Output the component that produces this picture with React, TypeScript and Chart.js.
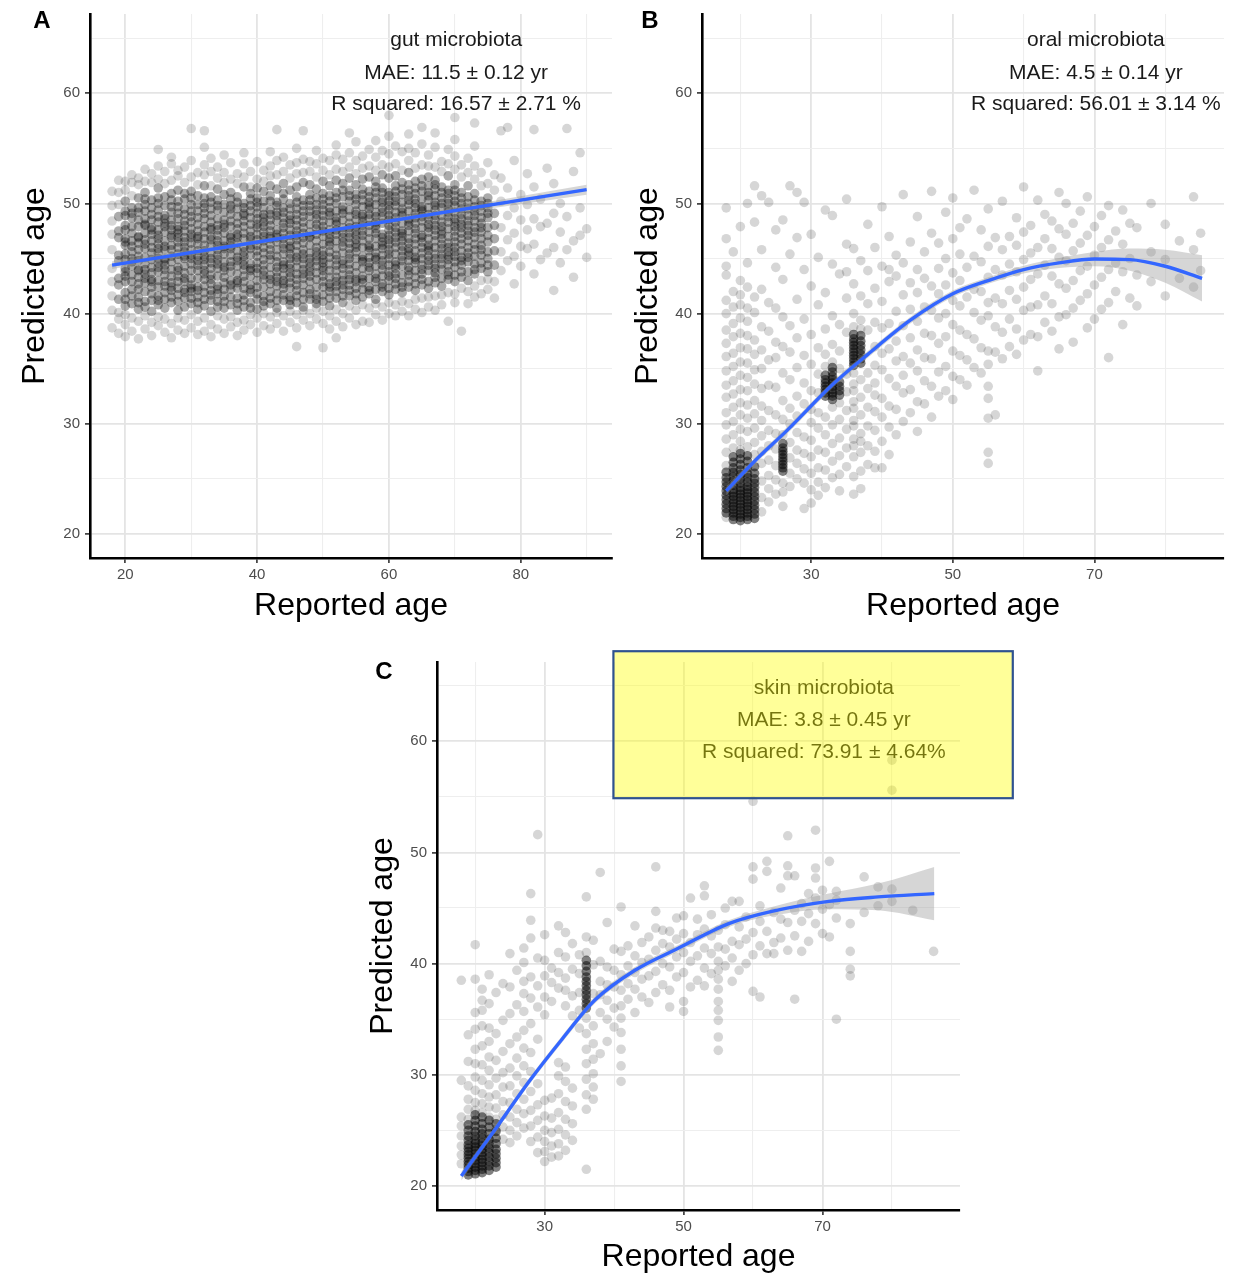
import { useEffect, useRef } from "react";
import { Chart, registerables } from "chart.js";

Chart.register(...registerables);

const FONT = "'Liberation Sans', Arial, Helvetica, sans-serif";
Chart.defaults.font.family = FONT;

// Each row: [reported age, predicted age, predicted age, ...]

// ---------- gut microbiota ----------
const gutCore: number[][] = [
  [19, 41.3, 42.6, 43.2, 44.8, 45.3, 46.9, 47.5, 48.8],
  [20, 40.7, 41.9, 43.4, 44.1, 44.9, 46.2, 46.8, 48.0, 49.3, 50.2],
  [21, 40.9, 42.2, 42.9, 44.3, 45.6, 46.1, 47.3, 48.7, 49.6],
  [22, 40.4, 41.5, 42.7, 43.3, 44.0, 45.2, 46.4, 47.0, 47.9, 49.2, 50.5],
  [23, 41.1, 42.0, 43.6, 44.5, 45.1, 45.9, 46.7, 48.1, 48.6, 49.9, 51.0],
  [24, 40.2, 41.8, 42.4, 43.1, 44.2, 44.9, 46.0, 47.2, 47.8, 49.0, 50.3],
  [25, 40.8, 41.6, 43.0, 43.8, 44.6, 45.5, 46.3, 47.1, 48.3, 49.4, 50.0, 51.4],
  [26, 40.5, 41.3, 42.5, 43.5, 44.4, 45.0, 46.6, 47.4, 48.2, 48.9, 50.6],
  [27, 41.0, 42.1, 42.8, 44.0, 44.7, 45.8, 46.2, 47.6, 48.5, 49.7, 50.9],
  [28, 40.3, 41.7, 42.3, 43.4, 44.9, 45.4, 46.5, 47.3, 47.9, 49.1, 50.2, 51.2],
  [29, 40.6, 41.4, 42.9, 43.7, 44.3, 45.6, 46.0, 46.9, 48.4, 49.5, 50.4],
  [30, 40.9, 42.0, 42.6, 43.2, 44.5, 45.3, 46.4, 47.2, 47.7, 48.8, 49.9, 51.1],
  [31, 40.4, 41.5, 42.4, 43.9, 44.8, 45.7, 46.3, 47.5, 48.1, 49.3, 50.7],
  [32, 40.7, 41.9, 43.1, 43.6, 44.4, 45.2, 46.8, 47.4, 48.6, 49.6, 50.5, 51.6],
  [33, 40.2, 41.2, 42.7, 43.5, 44.6, 45.5, 46.2, 47.0, 48.3, 48.9, 50.1],
  [34, 41.1, 41.8, 42.5, 44.1, 44.9, 45.8, 46.6, 47.6, 48.0, 49.4, 50.3, 51.3],
  [35, 40.5, 41.6, 42.8, 43.3, 44.2, 45.4, 46.1, 47.3, 48.5, 49.2, 50.8],
  [36, 40.8, 42.2, 43.0, 43.8, 44.7, 45.9, 46.5, 47.1, 47.9, 49.0, 49.8, 51.0],
  [37, 40.3, 41.4, 42.3, 43.6, 44.3, 45.1, 46.4, 47.7, 48.2, 49.5, 50.6],
  [38, 40.6, 41.7, 42.9, 44.0, 44.8, 45.6, 46.0, 46.8, 48.4, 49.1, 50.0, 51.5],
  [39, 41.0, 41.9, 42.6, 43.4, 44.5, 45.3, 46.7, 47.5, 48.1, 49.3, 50.4],
  [40, 40.4, 41.3, 42.4, 43.7, 44.6, 45.7, 46.2, 47.2, 48.6, 49.7, 50.5, 51.4],
  [41, 40.7, 41.6, 43.1, 43.9, 44.4, 45.5, 46.6, 47.4, 48.3, 49.0, 50.2, 51.1],
  [42, 40.9, 42.0, 42.7, 43.5, 44.9, 45.8, 46.3, 47.0, 48.0, 49.4, 50.7, 51.6],
  [43, 40.5, 41.8, 42.5, 43.3, 44.2, 45.2, 46.5, 47.6, 48.4, 49.2, 50.1, 51.3],
  [44, 41.2, 42.3, 43.0, 44.1, 44.7, 45.9, 46.8, 47.3, 48.7, 49.6, 50.4, 51.8],
  [45, 40.8, 41.5, 42.8, 43.7, 44.5, 45.4, 46.1, 47.1, 48.2, 48.9, 50.0, 51.2],
  [46, 41.0, 42.1, 42.6, 43.6, 44.8, 45.6, 46.7, 47.5, 48.5, 49.5, 50.6, 51.5],
  [47, 40.6, 41.9, 43.2, 44.0, 45.0, 45.8, 46.4, 47.8, 48.3, 49.3, 50.3, 51.9],
  [48, 41.3, 42.2, 42.9, 43.8, 44.6, 45.5, 46.9, 47.4, 48.8, 49.8, 50.8, 51.7],
  [49, 40.9, 41.7, 43.1, 44.3, 45.2, 46.0, 46.6, 47.7, 48.6, 49.4, 50.5, 51.3],
  [50, 41.1, 42.4, 43.4, 44.2, 44.9, 45.7, 47.0, 47.9, 48.4, 49.9, 50.9, 52.0],
  [51, 40.7, 42.0, 42.7, 43.9, 45.1, 46.2, 46.8, 47.6, 48.9, 49.6, 50.7, 51.6],
  [52, 41.4, 42.5, 43.3, 44.4, 45.3, 45.9, 47.2, 48.1, 48.7, 50.0, 51.0, 52.1],
  [53, 41.0, 42.2, 43.0, 44.1, 44.8, 46.1, 46.9, 47.8, 49.1, 49.7, 50.6, 51.8],
  [54, 41.6, 42.6, 43.5, 44.5, 45.4, 46.4, 47.3, 48.2, 48.8, 50.2, 51.2, 52.3],
  [55, 41.2, 42.3, 43.7, 44.3, 45.6, 46.3, 47.1, 47.9, 49.3, 49.9, 50.8, 51.7],
  [56, 41.5, 42.8, 43.4, 44.7, 45.2, 46.6, 47.5, 48.4, 49.0, 50.3, 51.3, 52.2],
  [57, 41.8, 42.4, 43.9, 44.6, 45.7, 46.2, 47.4, 48.6, 49.5, 50.1, 51.1, 52.4],
  [58, 41.3, 42.9, 43.6, 44.9, 45.5, 46.8, 47.7, 48.3, 49.2, 50.5, 51.5, 52.0],
  [59, 42.0, 42.7, 44.0, 44.8, 45.9, 46.5, 47.2, 48.8, 49.6, 50.4, 51.4, 52.6],
  [60, 41.7, 43.0, 43.8, 45.0, 45.8, 46.7, 47.6, 48.5, 49.4, 50.2, 51.0, 52.3],
  [61, 42.2, 43.2, 44.1, 44.7, 46.0, 46.9, 47.8, 48.7, 49.8, 50.6, 51.6, 52.5],
  [62, 41.9, 42.8, 44.3, 45.2, 46.1, 47.0, 47.5, 48.9, 49.5, 50.8, 51.9],
  [63, 42.4, 43.5, 44.2, 45.3, 45.9, 46.8, 48.0, 48.6, 49.9, 50.7, 51.7, 52.8],
  [64, 42.1, 43.3, 44.6, 45.1, 46.3, 47.3, 48.2, 49.1, 50.0, 50.9, 52.0],
  [65, 42.6, 43.6, 44.4, 45.5, 46.5, 47.1, 48.4, 49.3, 49.7, 51.1, 52.2],
  [66, 42.3, 43.9, 44.8, 45.7, 46.2, 47.4, 48.1, 49.0, 50.3, 51.0, 52.4],
  [67, 42.8, 43.7, 44.5, 45.4, 46.6, 47.6, 48.5, 49.4, 50.1, 51.3, 52.1],
  [68, 42.5, 44.0, 45.0, 45.9, 46.8, 47.2, 48.3, 49.6, 50.5, 51.5],
  [69, 43.1, 43.8, 44.9, 45.6, 46.4, 47.7, 48.8, 49.2, 50.4, 51.2, 52.5],
  [70, 42.9, 44.2, 45.2, 46.0, 47.0, 47.9, 48.6, 49.8, 50.7, 51.7],
  [71, 43.3, 44.4, 45.1, 46.3, 47.3, 48.1, 49.0, 50.0, 51.0],
  [72, 43.0, 44.7, 45.5, 46.6, 47.5, 48.4, 49.5, 50.6, 51.6],
  [73, 43.6, 44.5, 45.8, 46.9, 47.8, 48.9, 49.7, 50.9],
  [74, 44.1, 45.3, 46.2, 47.4, 48.2, 49.3, 50.2],
  [75, 43.8, 45.0, 46.5, 47.1, 48.7, 49.6, 50.5],
  [76, 44.4, 45.7, 46.8, 48.0, 49.1],
];

// the most crowded band of the gut cloud
const gutDense: number[][] = [
  [20, 41.3, 42.9, 43.8, 45.4, 46.5, 47.6, 48.9],
  [21, 41.6, 43.5, 44.7, 45.0, 46.6, 47.9, 49.1],
  [22, 41.0, 42.2, 43.9, 44.8, 45.8, 46.9, 48.5, 49.6],
  [23, 40.6, 42.8, 43.2, 44.0, 46.3, 47.3, 48.0, 49.3, 50.4],
  [24, 41.2, 42.9, 43.7, 45.5, 46.6, 47.6, 48.5, 49.6],
  [25, 41.2, 42.4, 44.2, 45.0, 45.9, 46.8, 47.6, 48.8, 50.5],
  [26, 41.9, 42.9, 44.0, 44.8, 45.8, 46.1, 47.9, 48.6, 49.8],
  [27, 41.5, 42.4, 43.4, 45.2, 46.9, 47.1, 48.0, 49.2, 50.3],
  [28, 41.1, 42.9, 43.9, 44.2, 46.0, 46.9, 47.6, 48.6, 49.7],
  [29, 41.9, 42.2, 43.2, 45.0, 45.2, 46.5, 47.5, 48.0, 49.0, 50.9],
  [30, 41.4, 42.3, 43.9, 45.0, 45.8, 46.9, 48.3, 49.3, 50.5],
  [31, 41.0, 42.1, 43.2, 44.4, 45.2, 46.8, 47.0, 48.7, 49.9],
  [32, 41.3, 42.5, 43.9, 44.9, 45.7, 46.2, 47.9, 49.1, 50.0],
  [33, 41.7, 42.1, 43.1, 44.1, 45.0, 46.7, 47.6, 47.8, 49.5, 50.6],
  [34, 40.6, 42.2, 43.4, 44.5, 45.3, 46.2, 47.1, 48.6, 49.8],
  [35, 41.1, 42.2, 43.9, 44.7, 45.9, 46.6, 47.8, 48.1, 49.9],
  [36, 41.5, 42.6, 44.3, 45.3, 46.1, 46.9, 48.4, 49.5, 50.4],
  [37, 40.9, 42.8, 43.0, 44.8, 45.7, 46.9, 47.2, 48.8, 50.1],
  [38, 41.2, 42.3, 43.4, 44.4, 45.2, 47.3, 47.9, 48.9, 49.6],
  [39, 40.5, 42.2, 43.9, 44.1, 45.9, 46.2, 47.0, 48.7, 49.8, 50.9],
  [40, 41.8, 43.0, 44.1, 45.2, 46.7, 47.8, 48.1, 49.1, 50.1],
  [41, 41.1, 42.4, 43.5, 44.9, 46.0, 47.0, 47.9, 48.7, 49.6],
  [42, 41.4, 43.1, 44.2, 45.3, 46.8, 47.5, 48.5, 49.0, 50.2],
  [43, 41.2, 42.9, 43.8, 44.7, 45.8, 46.9, 47.2, 48.9, 49.8],
  [44, 41.7, 42.7, 43.5, 44.4, 45.4, 46.3, 47.8, 48.2, 49.2, 50.9],
  [45, 41.2, 42.3, 43.3, 44.1, 45.0, 45.9, 46.6, 47.6, 48.5, 49.5],
  [46, 41.6, 43.1, 44.2, 45.1, 46.2, 47.1, 48.0, 49.0, 50.1],
  [47, 41.3, 42.6, 43.6, 44.5, 45.4, 46.9, 47.3, 48.8, 49.8],
  [48, 41.8, 43.4, 44.2, 45.0, 46.2, 47.0, 48.1, 49.3, 50.3],
  [49, 41.3, 42.4, 43.7, 44.8, 45.6, 47.2, 48.1, 49.0, 49.9],
  [50, 41.7, 42.9, 43.9, 44.6, 45.3, 46.3, 47.5, 48.9, 49.4, 50.4],
  [51, 41.4, 42.4, 43.3, 44.5, 45.6, 46.5, 47.2, 48.3, 49.2, 50.2],
  [52, 42.0, 42.9, 43.9, 44.9, 46.6, 47.6, 48.4, 49.3, 50.5],
  [53, 41.6, 42.6, 43.5, 44.5, 45.5, 46.5, 47.3, 48.5, 49.4, 51.2],
  [54, 42.1, 43.1, 44.0, 45.0, 45.9, 46.9, 47.8, 49.4, 50.7],
  [55, 41.8, 42.9, 43.1, 45.0, 46.0, 46.7, 47.5, 48.5, 49.0, 50.4],
  [56, 42.2, 43.1, 44.1, 44.9, 46.0, 47.1, 48.0, 48.8, 49.7, 50.8],
  [57, 42.1, 43.2, 44.2, 45.1, 46.0, 46.8, 48.0, 49.0, 49.8, 50.6],
  [58, 42.2, 43.2, 44.3, 45.1, 46.1, 47.3, 48.0, 48.8, 49.9, 51.0],
  [59, 42.4, 43.4, 44.4, 45.3, 46.2, 46.9, 48.2, 49.2, 50.1, 51.0],
  [60, 42.3, 43.4, 44.4, 45.4, 46.3, 47.1, 48.0, 48.9, 49.8, 50.7],
  [61, 42.7, 43.6, 44.4, 45.4, 46.5, 47.4, 48.3, 49.2, 50.2, 51.1],
  [62, 42.4, 43.5, 44.8, 45.7, 46.6, 47.3, 48.2, 49.2, 50.1, 51.3],
  [63, 42.9, 43.9, 44.8, 45.6, 46.4, 47.5, 48.3, 49.3, 50.3, 51.2],
  [64, 42.7, 43.9, 44.9, 45.7, 46.8, 47.7, 48.7, 49.6, 50.4, 51.4],
  [65, 43.1, 44.0, 45.0, 46.0, 46.9, 47.8, 48.8, 49.5, 50.4, 51.6],
  [66, 42.9, 44.4, 45.2, 46.0, 46.8, 47.8, 48.6, 49.6, 50.7, 51.6],
  [67, 43.3, 44.1, 45.0, 46.0, 47.1, 48.0, 48.9, 49.8, 50.7, 51.7],
  [68, 43.2, 44.5, 45.4, 46.3, 47.5, 47.9, 48.9, 50.0, 51.0],
  [69, 43.5, 44.4, 45.2, 46.0, 47.0, 48.3, 49.5, 50.0, 50.9],
  [70, 43.5, 44.7, 45.6, 46.5, 47.5, 48.3, 49.2, 50.2, 51.2],
  [71, 43.8, 44.8, 45.7, 46.8, 47.8, 48.6, 49.5, 50.5],
  [72, 43.8, 45.1, 46.0, 47.1, 48.0, 48.9, 50.0],
  [73, 44.0, 45.2, 46.3, 47.4, 48.4, 49.3, 50.3],
  [74, 44.6, 45.8, 46.8, 47.8, 48.7, 49.8],
  [75, 44.4, 45.6, 47.8, 49.1, 50.0],
];

const gutScatter: number[][] = [
  [18, 38.7, 40.3, 41.6, 42.9, 44.1, 45.8, 47.2, 48.4, 49.8, 51.1],
  [19, 38.2, 39.5, 40.1, 49.9, 51.0, 52.1],
  [20, 37.9, 39.0, 39.9, 51.2, 52.0],
  [21, 38.4, 39.6, 50.7, 51.9, 52.6],
  [22, 37.7, 39.3, 51.7, 52.3],
  [23, 38.6, 39.8, 52.0, 53.1],
  [24, 38.0, 39.2, 51.9, 52.7],
  [25, 38.9, 39.7, 52.2, 53.4, 54.9],
  [26, 38.3, 39.5, 51.8, 52.9],
  [27, 37.8, 39.1, 52.1, 53.6, 54.2],
  [28, 38.5, 39.6, 52.5, 53.0],
  [29, 38.2, 39.4, 51.9, 53.3],
  [30, 38.7, 39.9, 52.4, 53.9, 56.8],
  [31, 38.1, 39.3, 51.7, 52.8],
  [32, 38.4, 39.6, 52.6, 53.5, 55.1, 56.6],
  [33, 37.9, 39.0, 51.6, 52.9, 54.1],
  [34, 38.6, 39.8, 52.3, 53.3],
  [35, 38.2, 39.5, 51.9, 52.8, 54.4],
  [36, 38.8, 39.7, 52.2, 53.7],
  [37, 38.0, 39.2, 51.8, 52.7],
  [38, 38.5, 39.4, 52.4, 53.6, 54.6],
  [39, 39.0, 39.9, 51.5, 52.9],
  [40, 38.3, 39.6, 52.2, 53.8],
  [41, 38.9, 40.0, 52.0, 53.0],
  [42, 38.6, 39.7, 52.5, 53.4, 54.7],
  [43, 39.1, 40.1, 52.6, 53.9, 56.7],
  [44, 38.4, 39.8, 52.9, 54.2],
  [45, 39.2, 40.2, 52.3, 53.5],
  [46, 37.0, 38.7, 39.9, 52.7, 53.7, 55.0],
  [47, 39.4, 40.3, 52.8, 54.0, 56.6],
  [48, 38.9, 40.0, 52.9, 53.8],
  [49, 39.5, 40.5, 52.4, 53.6, 54.8],
  [50, 36.9, 39.1, 40.2, 53.0, 54.1],
  [51, 38.6, 39.8, 52.6, 53.9],
  [52, 37.8, 39.3, 40.4, 53.1, 54.4, 55.3],
  [53, 38.8, 40.0, 52.9, 54.0],
  [54, 39.6, 40.7, 53.3, 54.6, 56.4],
  [55, 39.0, 40.3, 52.7, 53.9, 55.6],
  [56, 39.3, 40.8, 53.2, 54.3],
  [57, 39.2, 40.5, 53.4, 54.9],
  [58, 39.9, 40.9, 53.0, 54.2, 55.7],
  [59, 39.4, 40.6, 53.5, 54.8],
  [60, 40.0, 41.0, 53.3, 54.5, 56.1, 58.0],
  [61, 39.8, 40.8, 53.6, 55.2],
  [62, 40.2, 41.1, 53.0, 54.7],
  [63, 39.8, 40.9, 53.9, 55.0, 56.3],
  [64, 40.4, 41.3, 53.2, 54.6],
  [65, 40.1, 41.4, 53.5, 55.4, 56.9],
  [66, 40.6, 41.5, 53.4, 54.4],
  [67, 40.3, 41.6, 53.3, 55.1, 56.4],
  [68, 40.8, 41.7, 52.9, 53.8],
  [69, 39.3, 41.9, 53.6, 54.9],
  [70, 41.0, 41.8, 53.1, 54.3, 55.8, 57.8],
  [71, 38.4, 42.3, 52.4, 53.5],
  [72, 40.9, 42.0, 52.8, 54.1],
  [73, 41.5, 42.5, 52.2, 53.4, 55.2, 57.3],
  [74, 41.8, 43.0, 51.6, 52.8],
  [75, 42.2, 43.1, 51.8, 53.7],
  [76, 41.4, 42.9, 51.2, 52.6],
  [77, 43.9, 45.6, 47.8, 50.2, 52.3, 56.6],
  [78, 44.8, 46.7, 48.9, 51.4, 56.9],
  [79, 42.7, 45.2, 47.3, 49.6, 53.9],
  [80, 44.3, 46.1, 48.5, 50.8],
  [81, 45.9, 47.6, 49.9, 52.7],
  [82, 43.6, 46.3, 48.6, 51.5, 56.7],
  [83, 44.9, 47.9, 50.4],
  [84, 45.5, 48.2, 53.2],
  [85, 42.1, 46.0, 49.1, 51.8],
  [86, 44.6, 47.4, 50.0],
  [87, 45.8, 48.8, 56.8],
  [88, 43.3, 46.6, 52.9],
  [89, 47.1, 49.6, 54.6],
  [90, 45.1, 47.7],
];

const gutFitAge = [18, 90];
const gutFitPred = [44.4, 51.25];
const gutBandAge = [18, 54, 90];
const gutBandLow = [44.05, 47.7, 50.8];
const gutBandHigh = [44.75, 48.0, 51.7];

// ---------- oral microbiota ----------
const oralCore: number[][] = [
  [18, 21.9, 22.3, 22.7, 23.1, 23.5, 23.9, 24.3, 24.7, 25.1, 25.6],
  [19, 21.3, 21.6, 21.9, 22.2, 22.5, 22.8, 23.1, 23.4, 23.7, 24.0, 24.4, 24.8, 25.2, 25.6, 26.0, 26.5, 27.0],
  [20, 21.2, 21.5, 21.8, 22.1, 22.4, 22.7, 23.0, 23.3, 23.6, 23.9, 24.2, 24.6, 25.0, 25.4, 25.8, 26.3, 26.8, 27.3],
  [21, 21.3, 21.6, 21.9, 22.2, 22.5, 22.8, 23.1, 23.4, 23.7, 24.0, 24.3, 24.7, 25.1, 25.5, 26.0, 26.6, 27.1],
  [22, 21.4, 21.8, 22.2, 22.6, 23.0, 23.4, 23.8, 24.2, 24.6, 25.0, 25.5, 26.1],
  [26, 25.7, 26.0, 26.3, 26.6, 26.9, 27.2, 27.5, 27.8, 28.2],
  [32, 32.5, 32.8, 33.1, 33.4, 33.7, 34.0, 34.4],
  [33, 32.2, 32.5, 32.8, 33.1, 33.4, 33.7, 34.0, 34.3, 34.7, 35.1],
  [34, 32.6, 33.0, 33.4, 33.8],
  [36, 35.3, 35.6, 35.9, 36.2, 36.5, 36.8, 37.1, 37.4, 37.7, 38.1],
  [37, 35.5, 35.9, 36.3, 36.7, 37.1, 37.5, 38.0],
];

const oralScatter: number[][] = [
  [18, 21.5, 26.2, 27.4, 28.6, 29.9, 31.0, 32.4, 33.5, 34.8, 36.1, 37.3, 38.5, 40.0, 41.2, 43.5, 44.3, 46.8, 49.6],
  [19, 27.8, 29.0, 30.2, 31.5, 32.7, 33.9, 35.2, 36.4, 37.9, 39.1, 40.6, 42.0, 45.6],
  [20, 27.6, 28.4, 29.5, 30.8, 31.9, 33.1, 34.4, 35.6, 36.9, 38.2, 39.6, 40.8, 41.7, 43.0, 47.9],
  [21, 27.9, 29.3, 30.5, 31.7, 33.0, 34.2, 35.5, 36.8, 38.0, 39.3, 40.5, 42.4, 44.6, 50.0],
  [22, 27.2, 28.3, 29.6, 30.9, 32.1, 33.6, 34.9, 36.3, 37.6, 40.1, 41.5, 48.3, 51.6],
  [23, 22.0, 23.3, 24.8, 26.4, 27.5, 28.9, 30.3, 31.6, 33.2, 35.0, 36.7, 38.8, 42.2, 45.8, 50.7],
  [24, 22.9, 24.1, 25.3, 26.7, 28.0, 29.4, 31.2, 33.5, 35.8, 38.4, 41.0, 50.1],
  [25, 23.6, 24.9, 26.2, 27.7, 29.1, 30.8, 33.3, 36.0, 37.4, 40.5, 44.2, 47.6],
  [26, 22.5, 23.8, 24.6, 29.0, 30.4, 32.1, 34.6, 37.0, 39.7, 43.1, 48.5],
  [27, 24.3, 25.5, 26.9, 28.3, 30.0, 31.4, 34.0, 36.5, 38.9, 45.4, 51.6],
  [28, 25.0, 26.4, 27.6, 29.2, 30.7, 32.5, 35.1, 37.8, 41.3, 46.9, 51.0],
  [29, 22.3, 24.6, 25.9, 27.3, 28.8, 31.8, 33.7, 36.2, 39.5, 44.0, 50.1],
  [30, 22.8, 24.0, 25.5, 27.0, 28.5, 30.1, 31.3, 33.0, 35.4, 38.1, 42.5, 47.2],
  [31, 23.5, 24.7, 26.0, 27.6, 29.6, 31.0, 32.8, 34.5, 36.9, 40.8, 45.1],
  [32, 24.2, 25.8, 27.4, 29.0, 30.6, 35.2, 36.3, 38.6, 41.9, 49.4],
  [33, 25.1, 26.6, 28.2, 29.9, 31.5, 35.6, 37.2, 39.8, 44.5, 48.9],
  [34, 23.9, 25.4, 27.1, 28.7, 30.4, 31.9, 35.0, 36.6, 39.0, 43.6],
  [35, 26.1, 27.8, 29.5, 31.2, 32.9, 34.5, 38.3, 41.4, 43.8, 46.3, 50.4],
  [36, 23.6, 25.2, 27.0, 28.0, 28.6, 29.8, 30.3, 31.4, 32.0, 33.0, 33.6, 34.6, 38.8, 40.0, 42.7, 45.9],
  [37, 24.1, 25.7, 27.4, 28.4, 29.1, 30.8, 32.4, 34.0, 38.6, 39.4, 41.6, 44.8],
  [38, 26.3, 28.0, 29.8, 31.5, 33.2, 34.6, 38.5, 40.9, 43.9, 48.1],
  [39, 26.0, 27.5, 29.4, 31.1, 32.6, 33.7, 35.3, 37.0, 39.2, 42.3, 46.0],
  [40, 26.0, 28.4, 30.6, 32.3, 34.9, 36.4, 38.7, 41.1, 44.3, 49.7],
  [41, 27.2, 29.7, 31.6, 34.1, 36.8, 39.1, 42.9, 44.0, 47.0],
  [42, 29.0, 31.3, 33.4, 35.7, 37.5, 40.2, 43.4, 45.3],
  [43, 30.2, 32.8, 34.4, 36.1, 38.9, 41.7, 44.6, 50.8],
  [44, 31.0, 33.1, 35.5, 37.8, 40.4, 42.8, 46.5],
  [45, 29.3, 32.0, 34.8, 36.7, 39.3, 41.9, 44.0, 48.8],
  [46, 31.8, 33.9, 36.0, 38.2, 40.6, 43.2, 45.6],
  [47, 30.6, 33.4, 35.9, 38.0, 40.3, 42.5, 47.3, 51.1],
  [48, 32.5, 34.7, 37.3, 39.6, 41.8, 44.1, 46.4],
  [49, 33.0, 35.2, 37.9, 40.0, 42.6, 45.0, 49.2],
  [50, 32.2, 34.3, 36.6, 39.0, 41.2, 43.7, 46.8, 50.5],
  [51, 34.0, 36.2, 38.5, 40.7, 43.0, 45.4, 47.8],
  [52, 33.5, 35.8, 38.1, 41.5, 44.2, 48.6],
  [53, 35.1, 37.7, 40.1, 42.2, 45.2, 51.2],
  [54, 34.6, 36.9, 39.4, 42.0, 44.7, 47.6],
  [55, 26.4, 27.4, 30.5, 32.3, 33.4, 35.4, 36.6, 39.8, 41.0, 43.3, 46.1, 49.5],
  [56, 30.8, 36.5, 38.8, 41.4, 44.0, 46.9],
  [57, 35.9, 38.3, 40.9, 43.5, 45.8, 50.2],
  [58, 37.0, 39.5, 42.1, 44.5, 47.0],
  [59, 36.3, 38.6, 41.3, 43.8, 46.2, 48.7],
  [60, 37.6, 40.3, 42.4, 44.9, 47.4, 51.5],
  [61, 38.1, 40.6, 43.1, 45.5, 48.0],
  [62, 34.8, 37.9, 40.8, 43.6, 46.0, 50.3],
  [63, 39.2, 41.6, 44.4, 46.8, 49.0],
  [64, 38.4, 40.9, 43.4, 45.9, 48.4],
  [65, 36.8, 39.7, 42.7, 45.1, 47.7, 51.0],
  [66, 39.9, 42.3, 44.8, 47.2, 50.0],
  [67, 37.4, 40.5, 43.0, 45.7, 48.2],
  [68, 41.2, 43.9, 46.4, 49.3],
  [69, 38.7, 41.8, 44.3, 47.1, 50.6],
  [70, 39.5, 42.6, 45.3, 47.9],
  [71, 40.4, 43.3, 46.0, 48.9],
  [72, 36.0, 41.0, 44.0, 46.7, 49.8],
  [73, 42.0, 44.6, 47.5],
  [74, 39.0, 43.8, 46.3, 49.4],
  [75, 41.4, 45.0, 48.2],
  [76, 40.7, 43.5, 47.8],
  [78, 42.9, 45.6, 50.0],
  [80, 41.6, 44.9, 48.1],
  [82, 43.2, 46.6],
  [84, 42.4, 45.8, 50.6],
  [85, 43.9, 47.3],
];

const oralFitAge = [18, 22, 26.6, 33.1, 38, 44, 50, 55, 60, 65, 70, 75, 80, 85.2];
const oralFitPred = [23.9, 26.6, 29.4, 33.6, 36.3, 39.4, 41.8, 43.0, 44.0, 44.6, 44.95, 44.9, 44.3, 43.2];
const oralBandLow = [23.5, 26.3, 29.1, 33.3, 36.0, 39.1, 41.5, 42.7, 43.65, 44.15, 44.3, 43.9, 42.8, 41.1];
const oralBandHigh = [24.3, 26.9, 29.7, 33.9, 36.6, 39.7, 42.1, 43.3, 44.35, 45.05, 45.6, 45.9, 45.8, 45.3];

// ---------- skin microbiota ----------
const skinCore: number[][] = [
  [19, 21.0, 21.3, 21.6, 21.9, 22.2, 22.5, 22.8, 23.1, 23.4, 23.7, 24.1, 24.5, 25.0, 25.5],
  [20, 21.1, 21.4, 21.7, 22.0, 22.3, 22.6, 22.9, 23.2, 23.5, 23.8, 24.1, 24.5, 24.9, 25.4, 25.9, 26.4],
  [21, 21.2, 21.5, 21.8, 22.1, 22.4, 22.7, 23.0, 23.3, 23.6, 23.9, 24.3, 24.7, 25.1, 25.6, 26.2],
  [22, 21.4, 21.8, 22.2, 22.6, 23.0, 23.4, 23.8, 24.2, 24.7, 25.3, 25.9],
  [23, 21.7, 22.1, 22.5, 22.9, 23.3, 23.8, 24.3, 24.9, 25.6],
  [36, 36.0, 36.4, 36.8, 37.2, 37.6, 38.0, 38.4, 38.8, 39.3, 39.8, 40.3],
];

const skinScatter: number[][] = [
  [18, 22.0, 22.8, 23.6, 24.5, 25.4, 26.2, 29.5, 38.5],
  [19, 26.0, 26.9, 27.8, 29.0, 31.2, 33.6],
  [20, 26.8, 27.5, 28.6, 29.8, 31.0, 32.3, 34.1, 35.6, 38.6, 41.7],
  [21, 26.6, 27.4, 28.3, 29.5, 30.9, 32.6, 34.4, 35.8, 36.7, 37.7],
  [22, 26.2, 27.1, 28.0, 29.1, 30.4, 31.6, 33.0, 34.2, 36.4, 39.0],
  [23, 25.1, 26.0, 27.0, 28.2, 29.7, 31.3, 33.7, 37.4],
  [24, 24.2, 25.3, 26.4, 27.6, 28.9, 30.2, 32.1, 34.9, 38.2],
  [25, 23.9, 25.0, 26.2, 27.5, 29.0, 30.6, 32.8, 35.5, 37.9, 40.9],
  [26, 24.5, 25.7, 26.9, 28.3, 29.9, 31.5, 33.4, 36.3, 39.4],
  [27, 25.2, 26.5, 27.8, 29.3, 30.8, 32.4, 34.0, 35.7, 37.3, 38.4, 40.1, 41.4],
  [28, 24.0, 25.4, 26.8, 28.5, 30.3, 32.0, 34.6, 36.9, 38.8, 42.3, 43.9, 46.3],
  [29, 23.0, 24.4, 25.9, 27.3, 29.2, 33.2, 36.1, 38.0, 40.5, 51.6],
  [30, 22.2, 23.1, 24.0, 25.0, 26.3, 27.7, 35.4, 37.0, 38.9, 40.3, 42.6],
  [31, 22.6, 23.6, 24.8, 26.1, 27.9, 36.6, 38.3, 39.6],
  [32, 22.7, 23.8, 25.1, 26.6, 28.3, 29.9, 31.1, 37.8, 39.2, 41.0, 43.4],
  [33, 23.2, 24.6, 26.0, 27.6, 29.4, 30.7, 36.2, 37.6, 38.7, 40.6, 42.8],
  [34, 24.1, 25.6, 27.2, 28.8, 35.3, 37.1, 39.5, 41.8],
  [35, 34.2, 35.8, 37.4, 39.1, 40.8],
  [36, 21.5, 26.9, 28.2, 29.6, 31.0, 32.3, 33.7, 35.1, 41.0, 42.4, 46.0],
  [37, 27.8, 28.9, 30.1, 31.4, 32.8, 34.4, 37.3, 39.9, 42.1],
  [38, 31.9, 35.6, 37.2, 38.4, 40.2, 48.2],
  [39, 33.0, 35.0, 36.7, 38.1, 39.7, 43.7],
  [40, 34.3, 36.0, 37.9, 39.4, 41.3],
  [41, 29.4, 30.8, 32.3, 33.8, 35.1, 36.2, 37.6, 39.0, 41.1, 45.1],
  [42, 36.8, 38.2, 39.8, 41.6],
  [43, 35.6, 37.7, 39.2, 40.7, 43.4],
  [44, 37.0, 38.6, 40.1, 41.9],
  [45, 36.5, 38.9, 40.4, 42.4],
  [46, 37.4, 39.3, 41.2, 43.2, 44.7, 48.7],
  [47, 38.1, 40.0, 41.8, 43.0],
  [48, 36.1, 37.6, 39.7, 41.5, 42.9],
  [49, 38.8, 40.6, 42.2, 44.1],
  [50, 35.7, 36.6, 39.2, 41.0, 42.7, 44.3],
  [51, 37.9, 40.2, 41.9, 45.9],
  [52, 38.5, 40.7, 42.6, 44.0],
  [53, 38.0, 39.6, 41.4, 43.1, 46.1, 47.0],
  [54, 39.1, 40.9, 42.5, 44.4],
  [55, 32.2, 33.4, 34.9, 35.8, 36.6, 37.7, 38.6, 39.4, 40.2, 41.5, 43.0],
  [56, 39.8, 41.3, 43.5, 45.0],
  [57, 38.4, 40.5, 42.0, 45.6],
  [58, 39.4, 41.7, 43.3, 45.6],
  [59, 40.0, 42.2, 44.2],
  [60, 37.5, 40.8, 42.8, 47.6, 48.7, 54.6],
  [61, 37.0, 41.6, 43.8, 45.2],
  [62, 40.9, 42.9, 48.3, 49.2],
  [63, 40.9, 41.9, 44.6],
  [64, 42.3, 44.0, 46.8],
  [65, 41.2, 43.7, 47.9, 48.8, 51.5],
  [66, 36.8, 42.5, 44.8, 47.9],
  [67, 41.1, 43.8, 45.4],
  [68, 42.0, 44.5, 46.3],
  [69, 43.6, 45.9, 47.7, 48.6, 52.0],
  [70, 42.7, 44.9, 46.6],
  [71, 42.4, 45.3, 49.2],
  [72, 35.0, 44.1, 45.7, 46.5],
  [74, 38.9, 39.5, 41.1, 43.6],
  [76, 44.6, 47.8],
  [78, 45.2, 46.9],
  [80, 45.6, 46.7, 55.6, 58.3],
  [83, 44.8],
  [86, 41.1],
];

const skinFitAge = [18, 23, 27.7, 32.5, 37.2, 43, 49.3, 56.5, 62.7, 70.9, 78, 86.1];
const skinFitPred = [20.9, 25.2, 29.35, 33.2, 36.7, 39.4, 41.4, 43.6, 44.7, 45.6, 46.0, 46.3];
const skinBandLow = [20.5, 24.9, 29.05, 32.9, 36.4, 39.1, 41.1, 43.3, 44.3, 44.9, 44.8, 43.9];
const skinBandHigh = [21.3, 25.5, 29.65, 33.5, 37.0, 39.7, 41.7, 43.9, 45.1, 46.3, 47.2, 48.7];

// ---------- axes and labels ----------
const gutXTicks = [20, 30, 40, 50, 60, 70, 80, 90];
const gutXLabels = [20, 40, 60, 80];
const otherXTicks = [20, 30, 40, 50, 60, 70, 80];
const otherXLabels = [30, 50, 70];
const yTicks = [20, 25, 30, 35, 40, 45, 50, 55, 60, 65];
const yLabels = [20, 30, 40, 50, 60];

const gutText = ["gut microbiota", "MAE: 11.5 \u00b1 0.12 yr", "R squared: 16.57 \u00b1 2.71 %"];
const oralText = ["oral microbiota", "MAE: 4.5 \u00b1 0.14 yr", "R squared: 56.01 \u00b1 3.14 %"];
const skinText = ["skin microbiota", "MAE: 3.8 \u00b1 0.45 yr", "R squared: 73.91 \u00b1 4.64%"];
const textAge = 70.2;
const textPred = [64.8, 61.85, 59.05];
// highlight box around the skin annotation, in data units
const boxAge = [39.9, 97.4];
const boxPred = [54.88, 68.1];

type Pt = { x: number; y: number };
const toPoints = (rows: number[][]): Pt[] =>
  rows.flatMap(([age, ...preds]) => preds.map((p) => ({ x: age, y: p })));
const toLine = (ages: number[], preds: number[]): Pt[] =>
  ages.map((a, i) => ({ x: a, y: preds[i] }));

type PanelSpec = {
  letter: string;
  core: number[][];
  coreAlpha: number;
  scatter: number[][];
  fitAge: number[];
  fitPred: number[];
  bandAge: number[];
  bandLow: number[];
  bandHigh: number[];
  xTicks: number[];
  xLabels: number[];
  xMin: number;
  xMax: number;
  yMin: number;
  yMax: number;
  text: string[];
  box: boolean;
  left: number;
  top: number;
  w: number;
  h: number;
  padTop: number;
  padRight: number;
  yAxisW: number;
  xAxisH: number;
  yTitlePad: number;
  xTitlePad: number;
  letterX: number;
  letterY: number;
};

const panels: PanelSpec[] = [
  {
    letter: "A", core: [...gutCore, ...gutDense], coreAlpha: 0.33, scatter: gutScatter,
    fitAge: gutFitAge, fitPred: gutFitPred,
    bandAge: gutBandAge, bandLow: gutBandLow, bandHigh: gutBandHigh,
    xTicks: gutXTicks, xLabels: gutXLabels,
    xMin: 14.65, xMax: 93.84, yMin: 17.81, yMax: 67.2,
    text: gutText, box: false,
    left: 0, top: 0, w: 620, h: 632, padTop: 10, padRight: 8, yAxisW: 90, xAxisH: 74,
    yTitlePad: 15.8, xTitlePad: 6.8, letterX: 42, letterY: 21,
  },
  {
    letter: "B", core: oralCore, coreAlpha: 0.5, scatter: oralScatter,
    fitAge: oralFitAge, fitPred: oralFitPred,
    bandAge: oralFitAge, bandLow: oralBandLow, bandHigh: oralBandHigh,
    xTicks: otherXTicks, xLabels: otherXLabels,
    xMin: 14.58, xMax: 88.3, yMin: 17.81, yMax: 67.2,
    text: oralText, box: false,
    left: 620, top: 0, w: 614, h: 632, padTop: 10, padRight: 10, yAxisW: 82, xAxisH: 74,
    yTitlePad: 8.8, xTitlePad: 6.8, letterX: 30, letterY: 21,
  },
  {
    letter: "C", core: skinCore, coreAlpha: 0.5, scatter: skinScatter,
    fitAge: skinFitAge, fitPred: skinFitPred,
    bandAge: skinFitAge, bandLow: skinBandLow, bandHigh: skinBandHigh,
    xTicks: otherXTicks, xLabels: otherXLabels,
    xMin: 14.5, xMax: 89.8, yMin: 17.84, yMax: 67.13,
    text: skinText, box: true,
    left: 340, top: 640, w: 694, h: 636, padTop: 22, padRight: 74, yAxisW: 97, xAxisH: 66,
    yTitlePad: 23.8, xTitlePad: 0, letterX: 44, letterY: 32,
  },
];

const MAJOR_GRID = "#e4e4e4";
const MINOR_GRID = "#eeeeee";
const TICK_TEXT = "#4d4d4d";
const POINT_RADIUS = 4.8;

function gridFor(majors: number[]) {
  const isMajor = (c: any) => majors.includes(c.tick?.value);
  return {
    color: (c: any) => (isMajor(c) ? MAJOR_GRID : MINOR_GRID),
    lineWidth: (c: any) => (isMajor(c) ? 1.8 : 1.1),
    tickColor: (c: any) => (isMajor(c) ? "#333333" : "rgba(0,0,0,0)"),
    tickWidth: 1.6,
    tickLength: 5,
    drawTicks: true,
  };
}

function annotationPlugin(p: PanelSpec) {
  return {
    id: "panelAnnotations" + p.letter,
    afterDraw(chart: any) {
      const { ctx } = chart;
      const xs = chart.scales.x;
      const ys = chart.scales.y;
      ctx.save();
      ctx.textAlign = "center";
      ctx.textBaseline = "middle";
      ctx.fillStyle = "#000";
      ctx.font = `bold 24px ${FONT}`;
      ctx.fillText(p.letter, p.letterX, p.letterY);
      ctx.fillStyle = "#1a1a1a";
      ctx.font = `21px ${FONT}`;
      p.text.forEach((t, i) => {
        ctx.fillText(t, xs.getPixelForValue(textAge), ys.getPixelForValue(textPred[i]));
      });
      if (p.box) {
        const x0 = xs.getPixelForValue(boxAge[0]);
        const x1 = xs.getPixelForValue(boxAge[1]);
        const y0 = ys.getPixelForValue(boxPred[1]);
        const y1 = ys.getPixelForValue(boxPred[0]);
        ctx.fillStyle = "rgba(255,255,0,0.4)";
        ctx.fillRect(x0, y0, x1 - x0, y1 - y0);
        ctx.strokeStyle = "#2f528f";
        ctx.lineWidth = 2.2;
        ctx.strokeRect(x0, y0, x1 - x0, y1 - y0);
      }
      ctx.restore();
    },
  };
}

function buildConfig(p: PanelSpec): any {
  const pointBase = { pointRadius: POINT_RADIUS, pointHoverRadius: 0, pointBorderWidth: 0, showLine: false };
  return {
    type: "scatter",
    data: {
      datasets: [
        {
          type: "line",
          data: toLine(p.fitAge, p.fitPred),
          borderColor: "#3366ff",
          borderWidth: 3.4,
          pointRadius: 0,
          cubicInterpolationMode: "monotone",
          fill: false,
          order: 0,
        },
        {
          type: "line",
          data: toLine(p.bandAge, p.bandLow),
          borderColor: "rgba(0,0,0,0)",
          borderWidth: 0,
          pointRadius: 0,
          cubicInterpolationMode: "monotone",
          fill: false,
          order: 1,
        },
        {
          type: "line",
          data: toLine(p.bandAge, p.bandHigh),
          borderColor: "rgba(0,0,0,0)",
          borderWidth: 0,
          pointRadius: 0,
          cubicInterpolationMode: "monotone",
          fill: "-1",
          backgroundColor: "rgba(153,153,153,0.4)",
          order: 1,
        },
        {
          data: toPoints(p.core),
          pointBackgroundColor: `rgba(0,0,0,${p.coreAlpha})`,
          ...pointBase,
          order: 2,
        },
        {
          data: toPoints(p.scatter),
          pointBackgroundColor: "rgba(0,0,0,0.16)",
          ...pointBase,
          order: 3,
        },
      ],
    },
    options: {
      responsive: false,
      animation: false,
      devicePixelRatio: 1,
      events: [],
      layout: { padding: { left: 0, top: p.padTop, right: p.padRight, bottom: 0 } },
      plugins: { legend: { display: false }, tooltip: { enabled: false } },
      scales: {
        x: {
          type: "linear",
          min: p.xMin,
          max: p.xMax,
          afterBuildTicks: (s: any) => {
            s.ticks = p.xTicks.map((v) => ({ value: v }));
          },
          afterFit: (s: any) => {
            s.height = p.xAxisH;
          },
          ticks: {
            autoSkip: false,
            maxRotation: 0,
            padding: 3,
            color: TICK_TEXT,
            font: { size: 15, family: FONT },
            callback: (v: number) => (p.xLabels.includes(v) ? String(v) : ""),
          },
          grid: gridFor(p.xLabels),
          border: { display: true, color: "#000", width: 2.6 },
          title: {
            display: true,
            text: "Reported age",
            color: "#000",
            font: { size: 32, family: FONT },
            padding: { top: 0, bottom: p.xTitlePad },
          },
        },
        y: {
          type: "linear",
          min: p.yMin,
          max: p.yMax,
          afterBuildTicks: (s: any) => {
            s.ticks = yTicks.map((v) => ({ value: v }));
          },
          afterFit: (s: any) => {
            s.width = p.yAxisW;
          },
          ticks: {
            autoSkip: false,
            padding: 5,
            color: TICK_TEXT,
            font: { size: 15, family: FONT },
            callback: (v: number) => (yLabels.includes(v) ? String(v) : ""),
          },
          grid: gridFor(yLabels),
          border: { display: true, color: "#000", width: 2.6 },
          title: {
            display: true,
            text: "Predicted age",
            color: "#000",
            font: { size: 32, family: FONT },
            padding: { top: p.yTitlePad, bottom: 0 },
          },
        },
      },
    },
    plugins: [annotationPlugin(p)],
  };
}

function Panel({ spec }: { spec: PanelSpec }) {
  const ref = useRef<HTMLCanvasElement>(null);
  useEffect(() => {
    if (!ref.current) return;
    const chart = new Chart(ref.current, buildConfig(spec));
    return () => chart.destroy();
  }, [spec]);
  return (
    <canvas
      ref={ref}
      width={spec.w}
      height={spec.h}
      style={{ position: "absolute", left: spec.left, top: spec.top, width: spec.w, height: spec.h }}
    />
  );
}

export default function App() {
  return (
    <div
      style={{
        position: "absolute",
        left: 0,
        top: 0,
        width: 1234,
        height: 1276,
        overflow: "hidden",
        background: "#fff",
      }}
    >
      {panels.map((p) => (
        <Panel key={p.letter} spec={p} />
      ))}
    </div>
  );
}
